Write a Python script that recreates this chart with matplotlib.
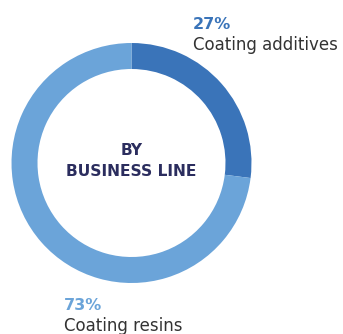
import matplotlib
matplotlib.use("Agg")
import matplotlib.pyplot as plt

# business line split
segments = ["Coating additives", "Coating resins"]
shares = [27, 73]
colors = ["#3a74b9", "#6ba4d9"]
pct_colors = ["#3a74b9", "#6ba4d9"]

W, H = 343, 334
FONT = "DejaVu Sans"

fig = plt.figure(figsize=(W / 100, H / 100), dpi=100)
ax = fig.add_axes([0, 0, 1, 1])

# donut, clockwise from 12 o'clock
ax.pie(shares, colors=colors, startangle=90, counterclock=False,
       center=(131.5, H - 163), radius=120, frame=True,
       wedgeprops=dict(width=26, linewidth=0))
ax.set_xlim(0, W)
ax.set_ylim(0, H)
ax.set_aspect("equal")
ax.axis("off")

# centre title
ax.text(131.5, H - 155, "BY", ha="center", va="baseline", fontsize=11.2,
        fontweight="bold", color="#2b2d5e", family=FONT)
ax.text(131.5, H - 176, "BUSINESS LINE", ha="center", va="baseline", fontsize=11.2,
        fontweight="bold", color="#2b2d5e", family=FONT)

# segment labels
label_pos = [(193, H - 29), (64, H - 310)]
for name, val, pc, (x, y) in zip(segments, shares, pct_colors, label_pos):
    ax.text(x, y, f"{val}%", ha="left", va="baseline", fontsize=11.5,
            fontweight="bold", color=pc, family=FONT)
    ax.text(x, y - 21, name, ha="left", va="baseline", fontsize=12,
            fontweight="normal", color="#333333", family=FONT)

fig.savefig("out.png", dpi=100)
